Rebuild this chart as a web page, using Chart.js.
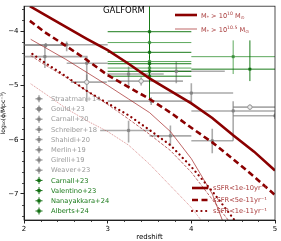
<!DOCTYPE html>
<html><head><meta charset="utf-8">
<script src="https://cdn.jsdelivr.net/npm/chart.js@4/dist/chart.umd.min.js"></script>
<style>html,body{margin:0;padding:0;background:#fff}#w{width:281px;height:241px;position:relative}</style>
</head><body><div id="w"><canvas id="c"></canvas></div>
<script>
// ---- GALFORM model lines (redshift, log10 phi) ----
const zThickSolid  = [2.07,2.25,2.5,2.75,3.0,3.25,3.5,3.75,4.0,4.25,4.5,4.75,5.0];
const vThickSolid  = [-3.54,-3.70,-3.92,-4.14,-4.35,-4.60,-4.87,-5.10,-5.33,-5.60,-5.92,-6.22,-6.57];
const zThickDash   = [2.07,2.25,2.5,2.75,3.0,3.25,3.5,3.75,4.0,4.25,4.5,4.75,5.0];
const vThickDash   = [-3.81,-4.02,-4.27,-4.53,-4.81,-5.03,-5.25,-5.50,-5.78,-6.05,-6.36,-6.68,-7.02];
const zThickDot    = [2.1,2.25,2.5,2.75,3.0,3.25,3.5,3.75,4.0,4.25,4.5,4.6];
const vThickDot    = [-4.42,-4.58,-4.83,-5.10,-5.33,-5.55,-5.82,-6.10,-6.50,-6.95,-7.45,-7.65];
const zThinSolid   = [2.08,2.25,2.5,2.75,3.0,3.25,3.5,3.75,4.0,4.25,4.4];
const vThinSolid   = [-4.15,-4.30,-4.52,-4.76,-5.0,-5.25,-5.5,-5.85,-6.35,-7.0,-7.6];
const zThinDash    = [2.08,2.25,2.5,2.75,3.0,3.25,3.5,3.75,4.0,4.25,4.5];
const vThinDash    = [-4.45,-4.62,-4.85,-5.1,-5.35,-5.62,-5.9,-6.2,-6.6,-7.1,-7.6];
const zThinDot     = [2.08,2.25,2.5,2.75,3.0,3.25,3.5,3.75,4.0,4.15];
const vThinDot     = [-4.97,-5.15,-5.42,-5.65,-5.85,-6.1,-6.45,-6.85,-7.25,-7.55];

// ---- grey observations ----
const grayZ    = [2.26,2.51,2.25,2.75,2.75,3.25,3.40,3.82,3.52,4.0,4.5,4.7,5.0,3.25,3.75,4.25];
const grayV    = [-4.26,-4.25,-4.47,-4.59,-4.94,-4.79,-4.92,-4.74,-5.29,-5.14,-5.47,-5.40,-5.56,-5.83,-5.93,-6.02];
const grayZlo  = [2.0,2.0,2.0,2.51,2.56,2.99,3.0,3.39,3.0,3.5,4.0,4.5,4.5,2.91,3.5,4.0];
const grayZhi  = [2.5,3.0,2.76,3.0,2.99,3.67,3.9,4.4,4.0,4.5,5.0,5.0,5.0,3.52,4.0,4.5];
const grayVlo  = [-4.30,-4.37,-4.68,-4.98,-5.30,-5.05,-5.0,-4.96,-5.36,-5.34,-6.02,-5.45,-5.62,-6.05,-6.11,-6.25];
const grayVhi  = [-4.22,-4.19,-4.25,-4.47,-4.80,-4.65,-4.85,-4.56,-5.22,-4.96,-5.29,-5.35,-5.50,-5.65,-5.74,-5.80];
const grayCircle = [0,0,0,0,1,0,1,0,0,0,0,1,0,0,0,0];

// ---- green observations ----
const greenZ   = [3.5,3.5,3.5,3.5,3.5,3.5,3.5,3.5,4.5,4.7];
const greenV   = [-4.01,-4.21,-4.39,-4.56,-4.60,-4.68,-4.74,-4.83,-4.47,-4.70];
const greenZlo = [3.0,3.0,3.0,3.0,3.0,3.0,3.0,3.0,4.0,4.0];
const greenZhi = [4.0,4.0,4.0,4.0,4.0,4.0,4.0,4.0,5.0,5.0];
const greenVlo = [-4.30,-4.45,-4.60,-4.75,-4.80,-4.85,-4.95,-5.25,-4.79,-4.92];
const greenVhi = [-3.40,-4.00,-4.20,-4.40,-4.45,-4.50,-4.55,-4.65,-4.17,-4.17];
const greenDark = [1,0,1,0,1,0,1,1,0,1];

// ---- ticks & labels ----
const xTicks = [2,3,4,5];
const yTicks = [-7,-6,-5,-4];
const obsLabels = ['Straatman+14','Gould+23','Carnall+20','Schreiber+18','Shahidi+20','Merlin+19','Girelli+19','Weaver+23','Carnall+23','Valentino+23','Nanayakkara+24','Alberts+24'];
const obsLabelGreen = [0,0,0,0,0,0,0,0,1,1,1,1];
const obsLabelCircle = [0,1,0,0,0,0,0,0,0,0,0,0];
const sfrLabels = ['sSFR<1e-10yr\u207B\u00B9','sSFR<5e-11yr\u207B\u00B9','sSFR<1e-11yr\u207B\u00B9'];

const FONT = "'DejaVu Sans'";
const RED = '#8b0000';
const pts = (zs, vs) => zs.map((z, i) => ({x: z, y: vs[i]}));

function lineDs(zs, vs, w, dash, color, cap) {
  return {type:'line', data: pts(zs, vs), borderColor: color, borderWidth: w, borderDash: dash,
    borderCapStyle: cap || 'butt', pointRadius: 0, fill: false, tension: 0, order: 1};
}

const datasets = [
  lineDs(zThickSolid, vThickSolid, 2.6, [], RED),
  lineDs(zThickDash, vThickDash, 2.6, [6,3.5], RED),
  lineDs(zThickDot, vThickDot, 2.2, [0.1,4.6], RED, 'round'),
  lineDs(zThinSolid, vThinSolid, 0.8, [], 'rgba(160,30,30,0.85)'),
  lineDs(zThinDash, vThinDash, 0.8, [3,1.5], 'rgba(160,30,30,0.85)'),
  lineDs(zThinDot, vThinDot, 0.8, [1,1], 'rgba(190,60,60,0.7)'),
  {type:'scatter', data: pts(grayZ, grayV), order: 3, kind:'gray',
    err:{zlo:grayZlo, zhi:grayZhi, vlo:grayVlo, vhi:grayVhi},
    pointStyle: grayZ.map((_, i) => grayCircle[i] ? 'circle' : 'rect'),
    pointRadius: grayZ.map((_, i) => grayCircle[i] ? 2.2 : 1.6),
    backgroundColor: grayZ.map((_, i) => grayCircle[i] ? 'rgba(235,235,235,1)' : 'rgba(130,130,130,0.95)'),
    borderColor: 'rgba(130,130,130,0.95)', borderWidth: 0.8},
  {type:'scatter', data: pts(greenZ, greenV), order: 2, kind:'green',
    err:{zlo:greenZlo, zhi:greenZhi, vlo:greenVlo, vhi:greenVhi},
    pointStyle:'rect', pointRadius: 1.7,
    backgroundColor: greenZ.map((_, i) => greenDark[i] ? '#137013' : '#3a8f3a'),
    borderColor: greenZ.map((_, i) => greenDark[i] ? '#137013' : '#3a8f3a'), borderWidth: 0.5}
];

const errPlugin = {
  id:'errs',
  beforeDatasetsDraw(chart) {
    const ctx = chart.ctx, xs = chart.scales.x, ys = chart.scales.y, a = chart.chartArea;
    ctx.save();
    ctx.beginPath(); ctx.rect(a.left, a.top, a.right - a.left, a.bottom - a.top); ctx.clip();
    chart.data.datasets.forEach(ds => {
      if (!ds.err) return;
      ds.data.forEach((p, i) => {
        const px = xs.getPixelForValue(p.x), py = ys.getPixelForValue(p.y);
        if (ds.kind === 'gray') { ctx.strokeStyle = 'rgba(120,120,120,0.62)'; ctx.lineWidth = 1.6; }
        else { ctx.strokeStyle = greenDark[i] ? 'rgba(0,110,0,0.9)' : 'rgba(40,140,40,0.75)'; ctx.lineWidth = 1; }
        ctx.beginPath();
        ctx.moveTo(xs.getPixelForValue(ds.err.zlo[i]), py);
        ctx.lineTo(xs.getPixelForValue(ds.err.zhi[i]), py);
        ctx.moveTo(px, ys.getPixelForValue(ds.err.vlo[i]));
        ctx.lineTo(px, ys.getPixelForValue(ds.err.vhi[i]));
        ctx.stroke();
      });
    });
    ctx.restore();
  }
};

function rich(ctx, x, y, segs, size, color) {
  ctx.fillStyle = color; ctx.textBaseline = 'alphabetic'; ctx.textAlign = 'left';
  segs.forEach(s => {
    const fs = s[1] ? size * 0.7 : size;
    ctx.font = fs + 'px ' + FONT;
    const dy = s[1] === 1 ? -size * 0.38 : (s[1] === -1 ? size * 0.2 : 0);
    ctx.fillText(s[0], x, y + dy);
    x += ctx.measureText(s[0]).width;
  });
}

const decoPlugin = {
  id:'deco',
  afterDraw(chart) {
    const ctx = chart.ctx, xs = chart.scales.x, ys = chart.scales.y, a = chart.chartArea;
    ctx.save();
    // frame
    ctx.strokeStyle = '#222'; ctx.lineWidth = 0.8;
    ctx.strokeRect(a.left, a.top, a.right - a.left, a.bottom - a.top);
    // minor ticks
    ctx.beginPath();
    for (let v = 2.2; v < 5; v += 0.2) {
      if (Math.abs(v - Math.round(v)) < 0.01) continue;
      const px = Math.round(xs.getPixelForValue(v)) + 0.5;
      ctx.moveTo(px, a.bottom); ctx.lineTo(px, a.bottom + 2);
    }
    for (let v = -7.4; v < -3.5; v += 0.2) {
      if (Math.abs(v - Math.round(v)) < 0.01) continue;
      const py = Math.round(ys.getPixelForValue(v)) + 0.5;
      ctx.moveTo(a.left, py); ctx.lineTo(a.left - 2, py);
    }
    ctx.stroke();
    // title
    ctx.fillStyle = '#000'; ctx.font = '8.5px ' + FONT; ctx.textBaseline = 'middle';
    ctx.fillText('GALFORM', 103, 11);
    // mass legend
    ctx.strokeStyle = RED; ctx.lineWidth = 2.6; ctx.setLineDash([]);
    ctx.beginPath(); ctx.moveTo(175, 15); ctx.lineTo(197, 15); ctx.stroke();
    ctx.strokeStyle = 'rgba(160,30,30,0.85)'; ctx.lineWidth = 0.8;
    ctx.beginPath(); ctx.moveTo(175, 29); ctx.lineTo(197, 29); ctx.stroke();
    const lc = '#a83a3a';
    rich(ctx, 201, 17.5, [['M',0],['*',-1],[' > 10',0],['10',1],[' M',0],['\u2299',-1]], 6.6, lc);
    rich(ctx, 201, 31.5, [['M',0],['*',-1],[' > 10',0],['10.5',1],[' M',0],['\u2299',-1]], 6.6, lc);
    // sSFR legend
    const sy = [188, 200, 211];
    const dashes = [[], [6,3.5], [0.1,4.6]];
    sy.forEach((y, i) => {
      ctx.strokeStyle = RED; ctx.lineWidth = i === 2 ? 2.2 : 2.6; ctx.setLineDash(dashes[i]);
      ctx.lineCap = i === 2 ? 'round' : 'butt';
      ctx.beginPath(); ctx.moveTo(192, y); ctx.lineTo(208, y); ctx.stroke();
    });
    ctx.setLineDash([]); ctx.lineCap = 'butt';
    ctx.font = '6.7px ' + FONT; ctx.fillStyle = lc; ctx.textBaseline = 'middle';
    sfrLabels.forEach((t, i) => ctx.fillText(t, 213, sy[i]));
    // observation legend
    obsLabels.forEach((t, i) => {
      const y = 98.8 + i * 10.2, x = 39;
      const g = obsLabelGreen[i];
      ctx.strokeStyle = g ? '#137013' : 'rgba(120,120,120,0.65)'; ctx.lineWidth = g ? 1 : 1.5;
      ctx.beginPath(); ctx.moveTo(x - 3.5, y); ctx.lineTo(x + 3.5, y); ctx.moveTo(x, y - 3.5); ctx.lineTo(x, y + 3.5); ctx.stroke();
      ctx.fillStyle = g ? '#137013' : 'rgba(130,130,130,0.95)';
      if (obsLabelCircle[i]) { ctx.beginPath(); ctx.arc(x, y, 2.3, 0, Math.PI * 2); ctx.fill(); }
      else ctx.fillRect(x - 1.6, y - 1.6, 3.2, 3.2);
      ctx.fillStyle = g ? '#1a7a1a' : '#9a9a9a';
      ctx.font = '6.7px ' + FONT; ctx.textBaseline = 'middle';
      ctx.fillText(t, 51, y + 0.5);
    });
    ctx.restore();
  }
};

Chart.defaults.font.family = FONT;
new Chart(document.getElementById('c'), {
  type: 'scatter',
  data: { datasets },
  options: {
    responsive: true, maintainAspectRatio: false, animation: false, devicePixelRatio: 1,
    layout: { padding: { top: 4, right: 6, left: 0, bottom: 0 } },
    plugins: { legend: { display: false }, tooltip: { enabled: false } },
    scales: {
      x: { type:'linear', min: 2, max: 5,
        afterBuildTicks: s => { s.ticks = xTicks.map(v => ({value: v})); },
        afterFit: s => { s.height = 21; },
        ticks: { font: { size: 7 }, color: '#000', padding: 1, maxRotation: 0 },
        grid: { drawOnChartArea: false, tickLength: 3.5, color: '#222' },
        border: { color: '#222' },
        title: { display: true, text: 'redshift', font: { size: 7 }, color: '#000', padding: { top: 0, bottom: 0 } } },
      y: { type:'linear', min: -7.48, max: -3.54,
        afterBuildTicks: s => { s.ticks = yTicks.map(v => ({value: v})); },
        afterFit: s => { s.width = 24; },
        ticks: { font: { size: 7 }, color: '#000', padding: 2, callback: v => String(v).replace('-', '\u2212') },
        grid: { drawOnChartArea: false, tickLength: 3.5, color: '#222' },
        border: { color: '#222' },
        title: { display: true, text: 'log\u2081\u2080(\u03D5/Mpc\u207B\u00B3)', font: { size: 6 }, color: '#000', padding: { top: 0, bottom: 0 } } }
    }
  },
  plugins: [errPlugin, decoPlugin]
});
</script>
</body></html>
